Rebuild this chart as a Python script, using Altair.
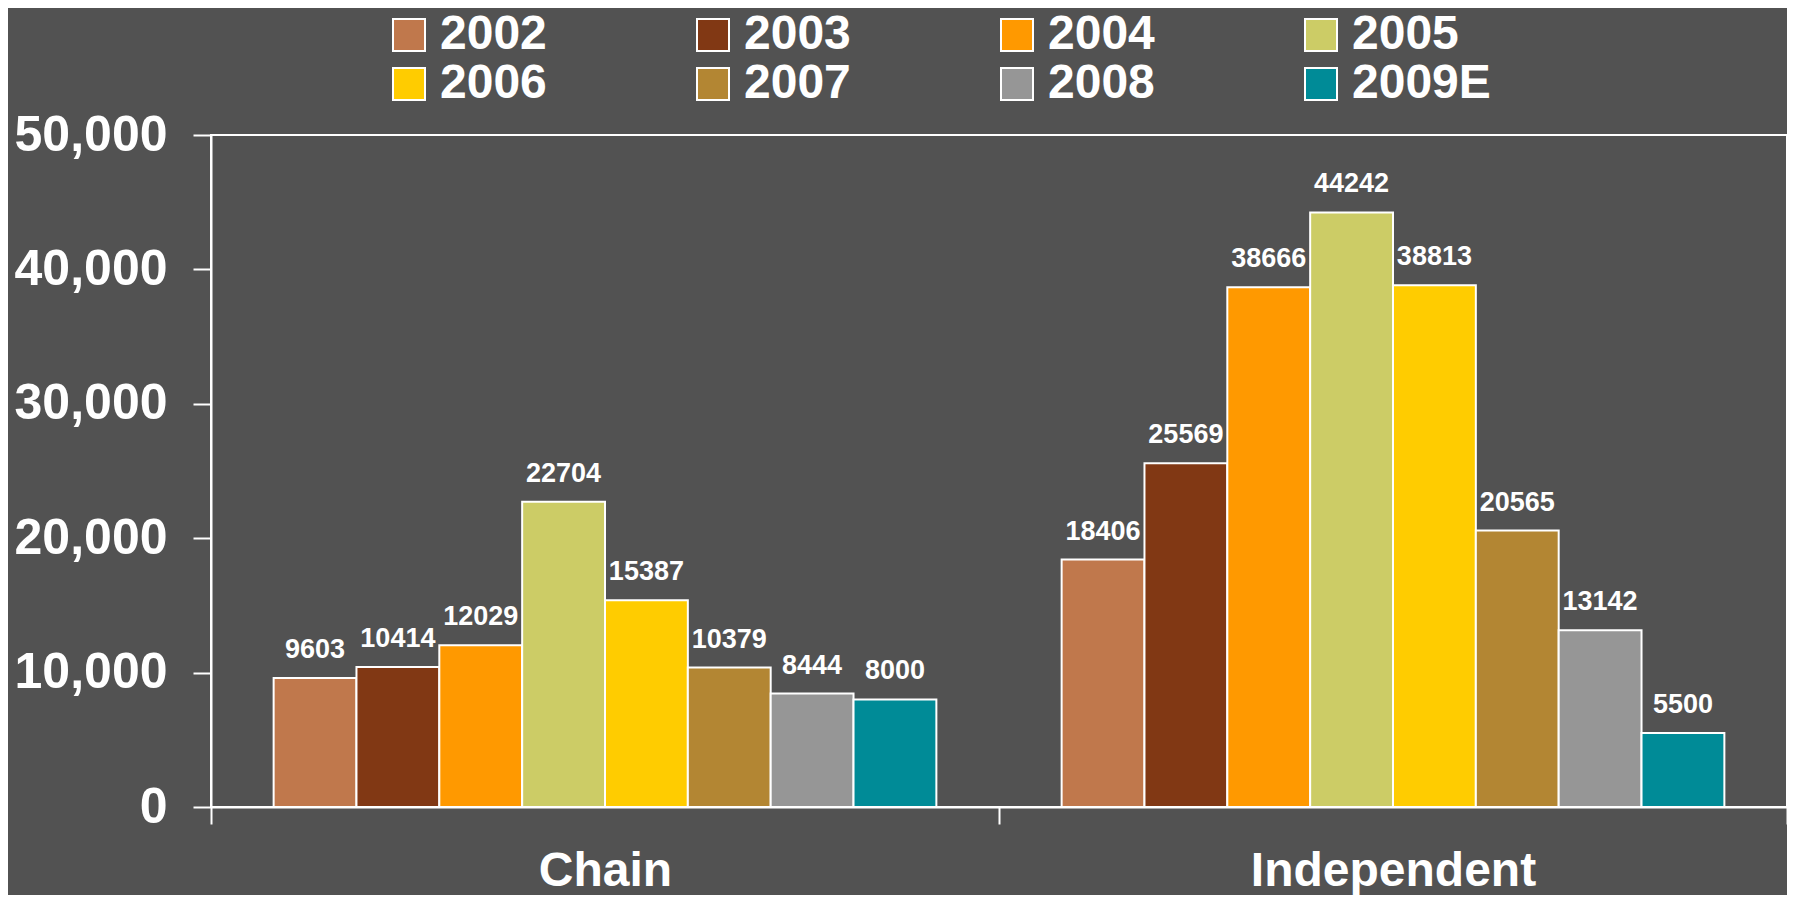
import altair as alt
import pandas as pd

categories = ["Chain", "Independent"]
years = ["2002", "2003", "2004", "2005", "2006", "2007", "2008", "2009E"]
chain_values = [9603, 10414, 12029, 22704, 15387, 10379, 8444, 8000]
independent_values = [18406, 25569, 38666, 44242, 38813, 20565, 13142, 5500]
colors = ["#C0784C", "#813814", "#FF9900", "#CCCC66", "#FFCC00", "#B38633", "#969696", "#008B97"]
y_ticks = [0, 10000, 20000, 30000, 40000, 50000]

rows = []
for cat, vals in zip(categories, [chain_values, independent_values]):
    for yr, v in zip(years, vals):
        rows.append({"Category": cat, "Year": yr, "Value": v})
df = pd.DataFrame(rows)

FONT = "Liberation Sans"

x_enc = alt.X(
    "Category:N",
    sort=categories,
    scale=alt.Scale(paddingInner=0, paddingOuter=0),
    axis=alt.Axis(
        title=None,
        labelAngle=0,
        labelFont=FONT,
        labelFontSize=48,
        labelFontWeight="bold",
        labelColor="white",
        labelPadding=61,
        labelBaseline="alphabetic",
        labelLimit=1000,
        tickBand="extent",
        tickSize=17,
        tickColor="white",
        tickWidth=2,
        domainColor="white",
        domainWidth=2,
    ),
)
xoff_enc = alt.XOffset(
    "Year:N",
    sort=years,
    scale=alt.Scale(paddingInner=0, paddingOuter=0.756),
)
y_enc = alt.Y(
    "Value:Q",
    scale=alt.Scale(domain=[0, 50000], nice=False),
    axis=alt.Axis(
        title=None,
        values=y_ticks,
        format=",.0f",
        labelFont=FONT,
        labelFontSize=50,
        labelFontWeight="bold",
        labelColor="white",
        labelPadding=26,
        tickSize=18,
        tickColor="white",
        tickWidth=2,
        domainColor="white",
        domainWidth=2,
        grid=False,
    ),
)

bars = alt.Chart(df).mark_bar(stroke="white", strokeWidth=2).encode(
    x=x_enc,
    xOffset=xoff_enc,
    y=y_enc,
    color=alt.Color(
        "Year:N",
        sort=years,
        scale=alt.Scale(domain=years, range=colors),
        legend=alt.Legend(
            title=None,
            orient="none",
            legendX=174,
            legendY=-124,
            direction="horizontal",
            columns=4,
            columnPadding=142,
            rowPadding=1,
            symbolType="square",
            symbolSize=1024,
            symbolStrokeColor="white",
            symbolStrokeWidth=2,
            symbolOpacity=1,
            labelFont=FONT,
            labelFontSize=48,
            labelFontWeight="bold",
            labelColor="white",
            labelOffset=7,
            labelLimit=400,
        ),
    ),
)

labels = alt.Chart(df).mark_text(
    font=FONT,
    fontSize=27,
    fontWeight="bold",
    color="white",
    baseline="alphabetic",
    dy=-20,
).encode(
    x=alt.X("Category:N", sort=categories),
    xOffset=alt.XOffset("Year:N", sort=years),
    y=alt.Y("Value:Q"),
    text=alt.Text("Value:Q", format="d"),
)

chart = (
    alt.layer(bars, labels)
    .properties(
        width=1576,
        height=672,
        background="#525252",
        padding={"left": 203, "top": 127, "right": 0, "bottom": 88},
        autosize=alt.AutoSizeParams(type="none"),
    )
    .configure_view(stroke="white", strokeWidth=2)
)

chart.save("out.html", embed_options={"renderer": "svg", "actions": False})
